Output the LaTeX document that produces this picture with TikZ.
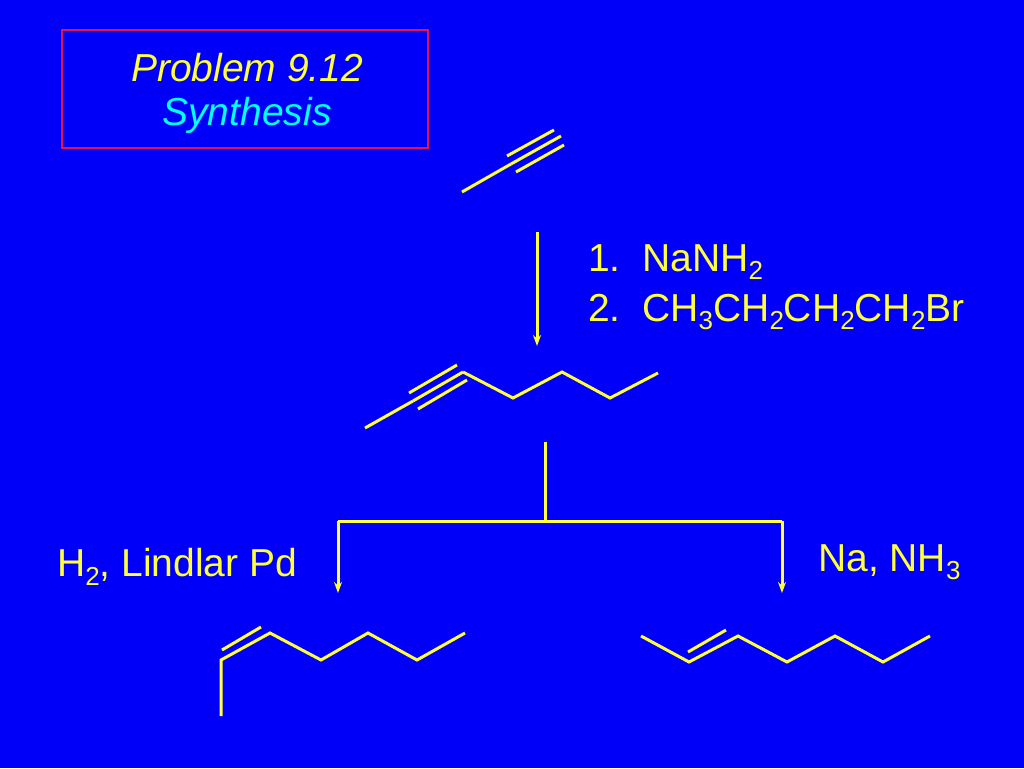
\documentclass[tikz,border=0pt]{standalone}
\usepackage{fontspec}
\setmainfont{Liberation Sans}
\usetikzlibrary{arrows.meta}
\definecolor{bg}{RGB}{0,0,250}
\definecolor{yel}{RGB}{255,255,60}
\definecolor{cy}{RGB}{0,255,255}
\definecolor{rd}{RGB}{230,20,70}
\newcommand{\sbs}[1]{\raisebox{-0.22em}{\fontsize{26}{28}\selectfont #1}}
\begin{document}
\begin{tikzpicture}[x=1pt,y=-1pt,
  bond/.style={yel,line width=3pt},
  rxn/.style={yel,line width=3pt,-{Stealth[length=11pt,width=8pt]}},
  lbl/.style={text=yel,font=\fontsize{39}{42}\selectfont,anchor=west,inner sep=0pt}]
\fill[bg] (0,0) rectangle (1024,768);
\useasboundingbox (0,0) rectangle (1024,768);
\node[draw=rd,line width=2.5pt,minimum width=366pt,minimum height=118pt] (box) at (245,89) {};
\node[text=yel,font=\fontsize{39}{42}\selectfont\itshape] (t1) at (247,68) {Problem 9.12};
\node[text=cy,font=\fontsize{39}{42}\selectfont\itshape] (t2) at (247,115) {Synthesis};
% propyne
\draw[bond] (462,192) -- (511,164);
\draw[bond] (511,164) -- (561,136);
\draw[bond] (507,156) -- (554,130);
\draw[bond] (516,172) -- (564,145);
\coordinate (a1) at (537,232); \coordinate (a2) at (537,346);
\draw[rxn] (a1) -- (a2);
\node[lbl] (r1) at (588,262) {1.\ \ NaNH\sbs{2}};
\node[lbl] (r2) at (588,312) {2.\ \ CH\sbs{3}CH\sbs{2}CH\sbs{2}CH\sbs{2}Br};
% 2-heptyne
\draw[bond] (365,428) -- (413,401);
\draw[bond] (413,401) -- (463,372);
\draw[bond] (409,393) -- (457,365);
\draw[bond] (418,409) -- (467,380);
\draw[bond,line join=miter] (463,372) -- (513,398) -- (562,372) -- (610,398) -- (658,373);
% tree
\coordinate (b0) at (545,442); \coordinate (b1) at (545,521);
\coordinate (bl) at (338,521); \coordinate (br) at (782,521);
\coordinate (bl2) at (338,593); \coordinate (br2) at (782,593);
\draw[yel,line width=3pt] (b0) -- (b1) (bl) -- (br);
\draw[rxn] (bl) -- (bl2);
\draw[rxn] (br) -- (br2);
\node[lbl] (l1) at (57,567) {H\sbs{2}, Lindlar Pd};
\node[lbl] (l2) at (818,562) {Na, NH\sbs{3}};
% cis
\draw[bond,line join=miter] (221,716) -- (221,660) -- (270,633) -- (321,660) -- (368,633) -- (417,660) -- (465,633);
\draw[bond] (222,650) -- (261,627);
% trans
\draw[bond,line join=miter] (641,636) -- (689,662) -- (738,636) -- (787,662) -- (835,636) -- (883,662) -- (930,636);
\draw[bond] (688,652) -- (726,630);
\end{tikzpicture}
\end{document}
